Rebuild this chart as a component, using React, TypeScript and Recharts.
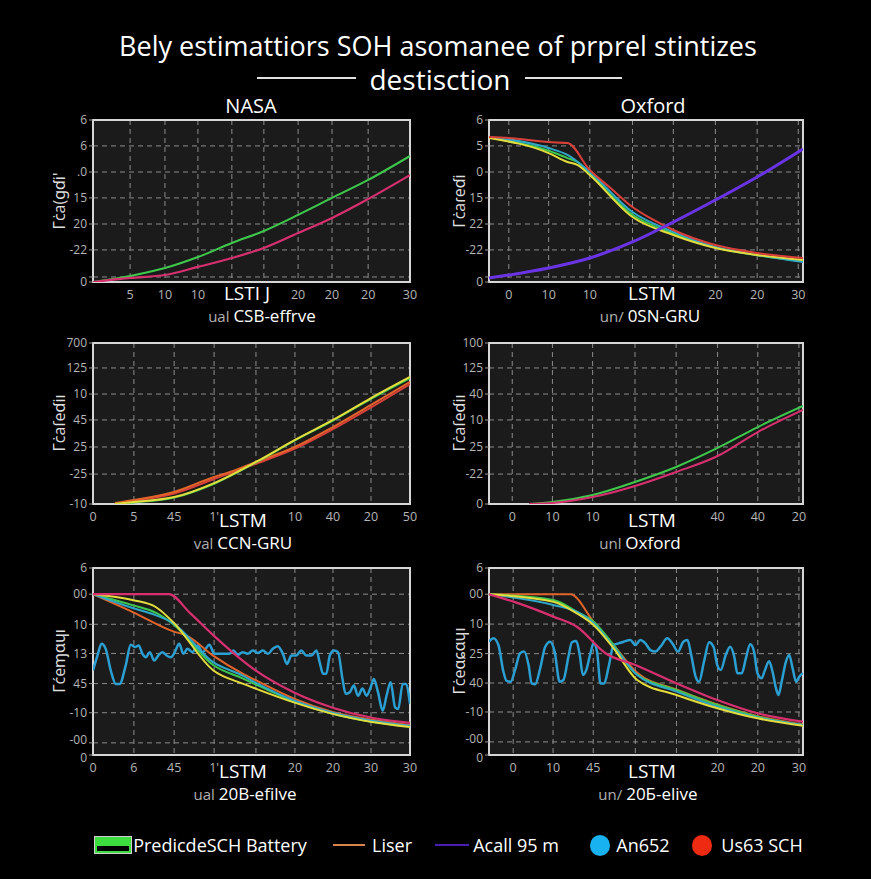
import React from 'react';
import { LineChart, Line, XAxis, YAxis, CartesianGrid, ReferenceArea } from 'recharts';

type Pt = [number, number];

// ---------- Top-left (NASA) ----------
const tlXTicks = [11.7, 22.7, 33.1, 43.8, 53.9, 64.7, 75.4, 86.8, 100];
const tlXLabels = ['5', '10', '10', '', '', '20', '20', '20', '30'];
const tlYTicks = [0, 3.1, 19.8, 35.8, 51.9, 67.9, 84, 100];
const tlYLabels = ['0', '', '-22', '20', '15', '.0', '6', '6'];
const tlGreen: Pt[] = [[0, 0], [11.7, 3.7], [22.7, 8.6], [33.1, 15.4], [43.8, 24.1], [53.9, 31.5], [64.7, 41.4], [75.4, 51.9], [86.8, 63.0], [100, 77.8]];
const tlPink: Pt[] = [[0, 0], [11.7, 2.5], [22.7, 4.3], [33.1, 9.3], [43.8, 14.8], [53.9, 21.0], [64.7, 30.2], [75.4, 39.5], [86.8, 51.2], [100, 66.0]];

// ---------- Top-right (Oxford) ----------
const trXTicks = [6.3, 19, 32.1, 45.7, 58.7, 72.1, 85.4, 98.5];
const trXLabels = ['0', '10', '10', '', '', '20', '20', '30'];
const trYTicks = [0, 3.1, 19.8, 35.8, 51.9, 67.9, 84, 100];
const trYLabels = ['0', '', '-22', '22', '15', '0', '5', '6'];
const trPurple: Pt[] = [[0, 2.5], [19, 8.6], [32.1, 14.8], [45.7, 24.7], [58.7, 37], [72.1, 50.6], [85.4, 64.8], [100, 82.1]];
const trRed: Pt[] = [[0, 89.5], [6.3, 88.9], [19, 86.4], [25, 85.8], [32.1, 69.1], [38.7, 58], [45.7, 46.3], [52.4, 38.3], [58.7, 32.1], [72.1, 22.8], [85.4, 17.9], [100, 14.8]];
const trCyan: Pt[] = [[0, 89.5], [19, 82.7], [25, 78.4], [32.1, 67.9], [45.7, 43.2], [58.7, 30.9], [72.1, 21.6], [85.4, 16.7], [100, 12.3]];
const trYellow: Pt[] = [[0, 88.9], [19, 79.6], [25, 74.1], [28.3, 72.2], [32.1, 66], [45.7, 40.1], [58.7, 29], [72.1, 21], [85.4, 16.7], [100, 13.6]];
const trGreen: Pt[] = [[0, 89.2], [19, 81], [25, 76.5], [28.3, 74], [32.1, 67], [45.7, 41.5], [58.7, 30], [72.1, 21.3], [85.4, 16.5], [100, 12.8]];

// ---------- Middle-left ----------
const mlXTicks = [0, 12.9, 25.6, 38.2, 51.4, 63.7, 75.7, 87.7, 100];
const mlXLabels = ['0', '5', '45', "1'", '', '10', '40', '20', '50'];
const mlYTicks = [0, 18.6, 35.4, 52.2, 68.3, 84.5, 100];
const mlYLabels = ['-10', '-25', '25', '45', '10', '125', '700'];
const mlOrange: Pt[] = [[6.9, 0.6], [12.9, 2.5], [25.6, 7.5], [38.2, 16.8], [43.2, 19.9], [51.4, 26.1], [63.7, 35.4], [75.7, 47.8], [87.7, 61.5], [100, 75.8]];
const mlRed: Pt[] = [[6.9, 0.3], [12.9, 2], [25.6, 6.5], [38.2, 15.5], [51.4, 25], [63.7, 34.4], [75.7, 46.5], [87.7, 60], [100, 74.5]];
const mlGreen: Pt[] = [[6.9, 0], [12.9, 1], [25.6, 4], [38.2, 12.6], [51.4, 25.8], [63.7, 39.5], [75.7, 51.8], [87.7, 65.3], [100, 78.2]];
const mlYellow: Pt[] = [[6.9, 0], [12.9, 1.2], [25.6, 4.3], [38.2, 13], [51.4, 26.1], [63.7, 39.8], [75.7, 52.2], [87.7, 65.8], [100, 78.9]];

// ---------- Middle-right ----------
const mrXTicks = [7.4, 20.2, 33, 46.5, 59.6, 72.8, 85.6, 98.7];
const mrXLabels = ['0', '10', '10', '', '', '40', '40', '20'];
const mrYTicks = [0, 18.6, 35.4, 52.2, 68.3, 84.5, 100];
const mrYLabels = ['0', '-22', '25', '10', '40', '125', '100'];
const mrGreen: Pt[] = [[12.8, 0], [20.2, 1.2], [33, 5.6], [46.5, 13.7], [59.6, 23], [72.8, 34.8], [85.6, 47.8], [100, 60.9]];
const mrPink: Pt[] = [[12.8, 0], [20.2, 0.6], [33, 4.3], [46.5, 11.2], [59.6, 19.9], [72.8, 29.8], [85.6, 44.7], [100, 58.4]];

// ---------- Bottom-left ----------
const blXTicks = [0, 12.9, 25.6, 38.2, 51.4, 63.7, 75.7, 87.7, 100];
const blXLabels = ['0', '6', '45', "1'", '', '20', '20', '30', '30'];
const blYTicks = [0, 6.5, 22.6, 38.2, 54.3, 69.9, 86, 100];
const blYLabels = ['0', '-00', '-10', '45', '13', '10', '00', '6'];
const blMagenta: Pt[] = [[0, 86], [24, 86], [30.4, 76.3], [38, 64], [47.2, 50.5], [51.3, 45.2], [63.6, 33.3], [75.6, 25.3], [88, 19.9], [100, 17.2]];
const blOrange: Pt[] = [[0, 86], [12.7, 76.3], [25.3, 66.1], [29.4, 64], [38, 53], [47.2, 43.5], [51.3, 40], [63.6, 30], [75.6, 23], [88, 18.8], [100, 16]];
const blYellow: Pt[] = [[0, 86], [5.1, 85], [12.7, 82.8], [19.9, 79], [25.3, 71], [38, 45.2], [47.2, 38.2], [51.3, 35.5], [63.6, 28], [75.6, 22], [88, 17.7], [100, 15]];
const blCyan: Pt[] = [[0, 86], [12.7, 78.5], [19.9, 74.7], [25.3, 70.4], [38, 49.5], [47.2, 42.5], [51.3, 38.7], [63.6, 29], [75.6, 22.6], [88, 18.3], [100, 15.6]];
const blGreen: Pt[] = [[0, 86], [12.7, 80], [19.9, 76], [25.3, 70], [38, 48], [47.2, 41], [63.6, 28.5], [75.6, 22], [88, 17.8], [100, 15.2]];
const blWave: Pt[] = [[0, 45.2], [1.4, 53.2], [2.7, 59.5], [4.0, 56.8], [5.6, 45.2], [7.2, 38], [8.4, 38], [10.3, 47.8], [11.9, 59], [13.3, 57.7], [14.4, 58.6], [15.6, 54.1], [16.7, 52.3], [17.9, 55], [19.3, 50.5], [20.6, 53.2], [21.9, 55], [23.2, 53.2], [24.6, 52.3], [25.8, 55], [27.2, 59.5], [28.5, 54.1], [29.8, 56.8], [31.4, 55], [33, 58.6], [34.6, 55], [36.7, 59], [38.3, 54.1], [39.9, 54.1], [43, 54.1], [44.3, 55.9], [45.7, 53.6], [47.2, 55], [48.8, 54.1], [50.4, 55.9], [52, 54.6], [53.6, 55.9], [55.2, 54.1], [56.7, 56.8], [58.3, 58.2], [59.9, 54.1], [61.2, 48.7], [62.6, 53.2], [64.1, 53.2], [65.7, 55.9], [67.3, 53.2], [68.9, 53.2], [70.5, 55.9], [71.5, 49.6], [72.6, 43.4], [73.6, 43.4], [74.7, 53.2], [76, 55.9], [77.3, 55], [78.7, 40.7], [79.7, 32.7], [81, 33.6], [82.3, 37.1], [83.6, 31.7], [85, 35.5], [86.3, 31.7], [87.6, 36.2], [88.6, 40.7], [89.9, 33.6], [91.4, 23.7], [92.6, 31.7], [93.9, 38.9], [95.3, 25.5], [96.3, 24.6], [97.7, 38], [98.7, 38], [100, 27.3]];

// ---------- Bottom-right ----------
const brXTicks = [7.7, 20.4, 33.2, 46.6, 59.7, 72.8, 85.6, 98.7];
const brXLabels = ['0', '10', '45', '', '', '20', '20', '30'];
const brYTicks = [0, 7, 23, 38.5, 54.2, 70, 86, 100];
const brYLabels = ['0', '-00', '-10', '40', '25', '10', '00', '6'];
const brOrange: Pt[] = [[0, 85.9], [25.9, 85.9], [33.3, 71.3], [39.7, 58.8], [47.2, 44], [59.7, 35], [72.7, 27], [85.5, 20.8], [100, 16.3]];
const brMagenta: Pt[] = [[0, 85.9], [7.8, 82], [20.5, 74], [28, 68.6], [37.1, 54.4], [46.6, 48.1], [59.7, 38.3], [72.7, 29.4], [85.5, 22.3], [100, 17.8]];
const brGreen: Pt[] = [[0, 85.9], [20.5, 82.9], [28, 76.6], [33.3, 71.3], [39.7, 58.8], [46.6, 43.7], [59.7, 34.8], [72.7, 26.7], [85.5, 20.5], [100, 16]];
const brYellow: Pt[] = [[0, 85.9], [20.5, 82], [28, 75.7], [33.3, 69.5], [39.7, 57], [47.2, 40.1], [59.7, 32.1], [72.7, 25], [85.5, 19.6], [100, 15.7]];
const brCyan: Pt[] = [[0, 85.9], [20.5, 80.2], [28, 76.6], [33.3, 70.4], [39.7, 57.9], [47.2, 42.8], [59.7, 33.9], [72.7, 25.8], [85.5, 20], [100, 16]];
const brWave: Pt[] = [[0, 60.6], [1.4, 62.4], [3.0, 58.8], [4.6, 44.5], [5.6, 39.6], [6.9, 39.2], [8.3, 45.5], [9.9, 54.4], [11.2, 55.3], [12.6, 48.1], [13.6, 38.3], [14.7, 37.8], [16.3, 46.3], [17.9, 57.9], [19.5, 60.6], [20.9, 55.3], [22.5, 39.2], [23.7, 40.1], [25.3, 52.6], [26.4, 60.3], [27.8, 61], [28.9, 53.5], [29.9, 42.8], [31, 45.5], [32.3, 54.4], [33.3, 59.7], [34.4, 55.3], [35.5, 38.3], [36.7, 38.3], [38.1, 47.2], [39.7, 58.8], [41.3, 59.7], [42.9, 60.6], [45, 61.5], [46.6, 58.8], [48.2, 61.5], [49.8, 59.7], [51.4, 56.1], [53, 55.3], [54.6, 57.9], [56.8, 62.4], [58.4, 59.7], [60.2, 55.3], [61.9, 60.6], [63.2, 61.5], [64.4, 53.5], [65.8, 41.9], [66.9, 39.2], [68.5, 50.1], [70.1, 60.3], [71.5, 57.9], [72.7, 48.1], [73.8, 45.5], [75.4, 53.5], [76.8, 57.9], [78.1, 52.6], [79.1, 43.7], [80.5, 43.7], [81.8, 51.7], [83.2, 59.2], [84.4, 55.3], [85.5, 43.7], [86.8, 41], [87.9, 45.5], [89.2, 50.1], [90.3, 44.5], [91.4, 35.7], [92.2, 32.1], [93.2, 39.2], [94.6, 50.1], [95.6, 53.5], [96.7, 46.3], [97.8, 39.2], [98.8, 41.9], [100, 43.7]];

// ---------- Legend ----------
const legendLabels = ['PredicdeSCH Battery', 'Liser', 'Acall 95 m', 'An652', 'Us63 SCH'];

const FONT = "'Open Sans', 'Noto Sans', sans-serif";
const C = {
  green: '#3ec94c',
  pink: '#d8306f',
  purple: '#6a34e6',
  red: '#d9403a',
  cyan: '#2ea7c9',
  yellow: '#e4dc3c',
  orange: '#e2642a',
  wave: '#2b9fd2',
};

type Series = { pts: Pt[]; color: string; width?: number };

function YTick(props: any) {
  const { x, y, payload, labels, ticks } = props;
  const idx = ticks.indexOf(payload.value);
  const label = labels[idx] ?? '';
  // nudge labels of very close neighbouring ticks apart
  let shift = 0;
  if (idx === 0 && ticks.length > 1 && ticks[1] - ticks[0] < 10 && labels[1]) shift = 3;
  if (idx === 1 && ticks[1] - ticks[0] < 10 && labels[0]) shift = -3;
  return (
    <text x={x} y={y + shift} dy="0.355em" textAnchor="end" fill="#b5b5b5" fontSize={12} fontFamily={FONT}>{label}</text>
  );
}

function Panel(props: {
  x: number; y: number; w: number; h: number;
  xTicks: number[]; xLabels: string[]; yTicks: number[]; yLabels: string[];
  series: Series[];
}) {
  const { x, y, w, h, xTicks, xLabels, yTicks, yLabels, series } = props;
  const ML = 60, MT = 10, MR = 16, MB = 26;
  return (
    <div style={{ position: 'absolute', left: x - ML, top: y - MT }}>
      <LineChart width={w + ML + MR} height={h + MT + MB} margin={{ top: MT, right: MR, left: 0, bottom: 0 }}>
        <CartesianGrid stroke="#8c8c8c" strokeDasharray="5 4" strokeWidth={1} fill="#1b1b1b" fillOpacity={1} />
        <XAxis
          type="number" dataKey="x" domain={[0, 100]} ticks={xTicks} interval={0}
          tickFormatter={(v: number) => xLabels[xTicks.indexOf(v)] ?? ''}
          tickLine={false} axisLine={false} height={MB} allowDataOverflow
          tick={{ fill: '#b5b5b5', fontSize: 12.5, fontFamily: FONT }}
        />
        <YAxis
          type="number" domain={[0, 100]} ticks={yTicks} interval={0} width={ML}
          tickLine={{ stroke: '#9a9a9a' }} tickSize={4} axisLine={false} allowDataOverflow
          tick={<YTick labels={yLabels} ticks={yTicks} />}
        />
        {series.map((s, i) => (
          <Line
            key={i}
            data={s.pts.map(([px, py]) => ({ x: px, y: py }))}
            dataKey="y" type="monotone" stroke={s.color} strokeWidth={s.width ?? 2}
            dot={false} activeDot={false} isAnimationActive={false}
          />
        ))}
        <ReferenceArea x1={0} x2={100} y1={0} y2={100} fill="none" fillOpacity={0} stroke="#d6d6d6" strokeWidth={2} />
      </LineChart>
    </div>
  );
}

function Txt(props: { cx: number; cy: number; size: number; color?: string; children: React.ReactNode; rotate?: boolean }) {
  return (
    <div style={{
      position: 'absolute', left: props.cx, top: props.cy,
      transform: `translate(-50%, -50%)${props.rotate ? ' rotate(-90deg)' : ''}`,
      whiteSpace: 'nowrap', fontSize: props.size, color: props.color ?? '#ffffff',
      fontFamily: FONT, lineHeight: 1,
    }}>{props.children}</div>
  );
}

function Sub(props: { cx: number; cy: number; pre: string; main: string }) {
  return (
    <Txt cx={props.cx} cy={props.cy} size={17}>
      <span style={{ color: '#b0b0b0', fontSize: 15 }}>{props.pre} </span>{props.main}
    </Txt>
  );
}

export default function App() {
  const L = { x: 93, w: 317 };
  const R = { x: 489, w: 314 };
  const rows = [{ y: 120, h: 162 }, { y: 343, h: 161 }, { y: 568, h: 187 }];
  return (
    <div style={{ position: 'absolute', left: 0, top: 0, width: 871, height: 879, background: '#000', overflow: 'hidden', fontFamily: FONT }}>
      <Txt cx={438} cy={45} size={27}>Bely estimattiors SOH asomanee of prprel stintizes</Txt>
      <Txt cx={440} cy={79} size={28}>destisction</Txt>
      <div style={{ position: 'absolute', left: 257, top: 77, width: 99, height: 2, background: '#e0e0e0' }} />
      <div style={{ position: 'absolute', left: 525, top: 77, width: 97, height: 2, background: '#e0e0e0' }} />
      <Txt cx={251} cy={106} size={20}>NASA</Txt>
      <Txt cx={653} cy={106} size={20}>Oxford</Txt>

      <Panel x={L.x} y={rows[0].y} w={L.w} h={rows[0].h} xTicks={tlXTicks} xLabels={tlXLabels} yTicks={tlYTicks} yLabels={tlYLabels}
        series={[{ pts: tlGreen, color: C.green }, { pts: tlPink, color: C.pink, width: 2.2 }]} />
      <Panel x={R.x} y={rows[0].y} w={R.w} h={rows[0].h} xTicks={trXTicks} xLabels={trXLabels} yTicks={trYTicks} yLabels={trYLabels}
        series={[{ pts: trGreen, color: C.green }, { pts: trCyan, color: C.cyan }, { pts: trYellow, color: C.yellow }, { pts: trRed, color: C.red }, { pts: trPurple, color: C.purple, width: 3 }]} />
      <Panel x={L.x} y={rows[1].y} w={L.w} h={rows[1].h} xTicks={mlXTicks} xLabels={mlXLabels} yTicks={mlYTicks} yLabels={mlYLabels}
        series={[{ pts: mlRed, color: C.red }, { pts: mlOrange, color: C.orange }, { pts: mlGreen, color: C.green }, { pts: mlYellow, color: C.yellow }]} />
      <Panel x={R.x} y={rows[1].y} w={R.w} h={rows[1].h} xTicks={mrXTicks} xLabels={mrXLabels} yTicks={mrYTicks} yLabels={mrYLabels}
        series={[{ pts: mrGreen, color: C.green }, { pts: mrPink, color: C.pink }]} />
      <Panel x={L.x} y={rows[2].y} w={L.w} h={rows[2].h} xTicks={blXTicks} xLabels={blXLabels} yTicks={blYTicks} yLabels={blYLabels}
        series={[{ pts: blWave, color: C.wave, width: 2.5 }, { pts: blOrange, color: C.orange }, { pts: blGreen, color: C.green }, { pts: blCyan, color: C.cyan }, { pts: blYellow, color: C.yellow }, { pts: blMagenta, color: C.pink, width: 2.2 }]} />
      <Panel x={R.x} y={rows[2].y} w={R.w} h={rows[2].h} xTicks={brXTicks} xLabels={brXLabels} yTicks={brYTicks} yLabels={brYLabels}
        series={[{ pts: brWave, color: C.wave, width: 2.5 }, { pts: brOrange, color: C.orange }, { pts: brGreen, color: C.green }, { pts: brCyan, color: C.cyan }, { pts: brYellow, color: C.yellow }, { pts: brMagenta, color: C.pink, width: 2.2 }]} />

      {/* y-axis titles */}
      <Txt cx={59} cy={201} size={16} color="#dddddd" rotate>Γċa(ɡɗi'</Txt>
      <Txt cx={459} cy={201} size={16} color="#dddddd" rotate>Γċaɾeɗi</Txt>
      <Txt cx={59} cy={423} size={16} color="#dddddd" rotate>Γċaſeɗiı</Txt>
      <Txt cx={459} cy={423} size={16} color="#dddddd" rotate>Γċaſeɗiı</Txt>
      <Txt cx={59} cy={661} size={16} color="#dddddd" rotate>Γćeɱɑɥı</Txt>
      <Txt cx={459} cy={661} size={16} color="#dddddd" rotate>Γċeɑɕɑɥı</Txt>

      {/* x-axis titles */}
      <Txt cx={247} cy={293} size={19}>LSTI J</Txt>
      <Sub cx={262} cy={315} pre="ual" main="CSB-effrve" />
      <Txt cx={652} cy={293} size={19}>LSTM</Txt>
      <Sub cx={650} cy={315} pre="un/" main="0SN-GRU" />
      <Txt cx={243} cy={520} size={19}>LSTM</Txt>
      <Sub cx={243} cy={542} pre="val" main="CCN-GRU" />
      <Txt cx={652} cy={520} size={19}>LSTM</Txt>
      <Sub cx={640} cy={542} pre="unl" main="Oxford" />
      <Txt cx={243} cy={771} size={19}>LSTM</Txt>
      <Sub cx={245} cy={793} pre="ual" main="20B-efilve" />
      <Txt cx={652} cy={771} size={19}>LSTM</Txt>
      <Sub cx={648} cy={793} pre="un/" main="20Б-elive" />

      {/* legend */}
      <div style={{ position: 'absolute', left: 94, top: 836, width: 38, height: 18, border: '1px solid #cfcfcf', boxSizing: 'border-box', background: '#3ddc3f' }}>
        <div style={{ position: 'absolute', left: 2, right: 2, top: 9, bottom: 2, background: '#000' }} />
      </div>
      <Txt cx={220} cy={845} size={18}>{legendLabels[0]}</Txt>
      <div style={{ position: 'absolute', left: 333, top: 844, width: 32, height: 2, background: '#d8834a' }} />
      <Txt cx={392} cy={845} size={18}>{legendLabels[1]}</Txt>
      <div style={{ position: 'absolute', left: 435, top: 844, width: 34, height: 2, background: '#4a1fb0' }} />
      <Txt cx={516} cy={845} size={18}>{legendLabels[2]}</Txt>
      <div style={{ position: 'absolute', left: 590, top: 835, width: 20, height: 21, borderRadius: '50%', background: '#19b2f0' }} />
      <Txt cx={643} cy={845} size={18}>{legendLabels[3]}</Txt>
      <div style={{ position: 'absolute', left: 692, top: 835, width: 20, height: 21, borderRadius: '50%', background: '#ef2a12' }} />
      <Txt cx={762} cy={845} size={18}>{legendLabels[4]}</Txt>
    </div>
  );
}
